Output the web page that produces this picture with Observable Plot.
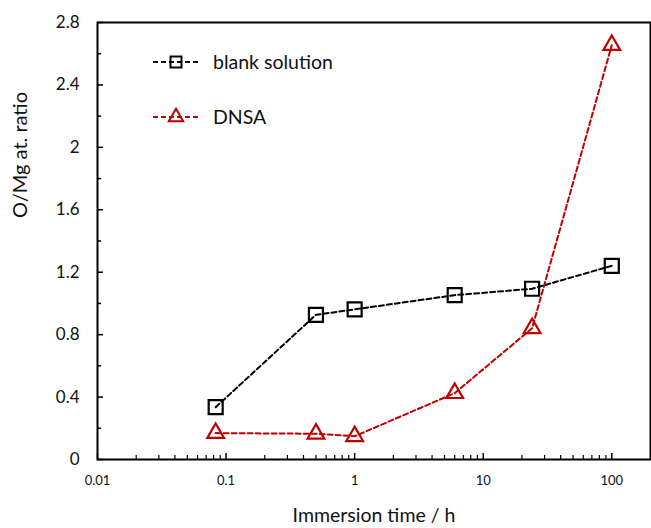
<!DOCTYPE html>
<html><head><meta charset="utf-8">
<script src="https://cdn.jsdelivr.net/npm/d3@7"></script>
<script src="https://cdn.jsdelivr.net/npm/@observablehq/plot@0.6"></script>
<style>
body{margin:0;background:#fff}
svg{font-family:Lato, "Open Sans", sans-serif}
</style>
</head><body><div id="chart"></div>
<script>
// ---- data ----
const times = [0.083, 0.5, 1, 6, 24, 100];
const blankValues = [0.335, 0.927, 0.962, 1.053, 1.094, 1.241];
const dnsaValues = [0.169, 0.165, 0.149, 0.425, 0.841, 2.655];
const seriesNames = ["blank solution", "DNSA"];
const seriesColors = ["#000000", "#C00000"];
const xTickLabels = [0.01, 0.1, 1, 10, 100];
const yTickLabels = [0, 0.4, 0.8, 1.2, 1.6, 2, 2.4, 2.8];
const yMinorTicks = [0.2, 0.6, 1.0, 1.4, 1.8, 2.2, 2.6];
const xTitle = "Immersion time / h";
const yTitle = "O/Mg at. ratio";

// ---- layout ----
const W = 651, H = 528;
const mL = 97, mR = 1, mT = 22, mB = 69;
const pw = W - mL - mR, ph = H - mT - mB;

const xMinorTicks = [];
for (const dec of [0.01, 0.1, 1, 10]) for (let k = 2; k <= 9; k++) xMinorTicks.push(+(dec * k).toPrecision(3));

const blankRows = times.map((t, i) => ({t, v: blankValues[i]}));
const dnsaRows = times.map((t, i) => ({t, v: dnsaValues[i]}));

const fmt = d => String(+(+d).toFixed(2));

const chart = Plot.plot({
  width: W, height: H,
  marginLeft: mL, marginRight: mR, marginTop: mT, marginBottom: mB,
  x: {type: "log", domain: [0.01, 200]},
  y: {domain: [0, 2.8]},
  marks: [
    Plot.tickY(yTickLabels, {y: d => d, insetRight: pw - 6, stroke: "#000", strokeWidth: 1.5}),
    Plot.tickY(yMinorTicks, {y: d => d, insetRight: pw - 4, stroke: "#000", strokeWidth: 1.5}),
    Plot.tickX(xTickLabels, {x: d => d, insetTop: ph - 6, stroke: "#000", strokeWidth: 1.5}),
    Plot.tickX(xMinorTicks, {x: d => d, insetTop: ph - 4, stroke: "#000", strokeWidth: 1.2}),
    Plot.axisY(yTickLabels, {tickSize: 0, tickPadding: 18, fontSize: 17, tickFormat: fmt, label: null, fill: "#111"}),
    Plot.axisX(xTickLabels, {tickSize: 0, tickPadding: 16, fontSize: 13, tickFormat: fmt, label: null, fill: "#111"}),
    Plot.text([xTitle], {frameAnchor: "bottom", dy: 56, fontSize: 19.5, lineAnchor: "middle", fill: "#111"}),
    Plot.text([yTitle], {frameAnchor: "left", rotate: -90, dx: -77, dy: -23, fontSize: 20, lineAnchor: "middle", fill: "#111"}),
    Plot.line(blankRows, {x: "t", y: "v", stroke: seriesColors[0], strokeWidth: 2, strokeDasharray: "5,3"}),
    Plot.line(dnsaRows, {x: "t", y: "v", stroke: seriesColors[1], strokeWidth: 2, strokeDasharray: "5,3"}),
    Plot.dot(blankRows, {x: "t", y: "v", symbol: "square", r: 7.9, stroke: seriesColors[0], strokeWidth: 2.2, fill: "none"}),
    Plot.dot(dnsaRows, {x: "t", y: "v", symbol: "triangle", r: 6.2, stroke: seriesColors[1], strokeWidth: 2.2, fill: "none"}),
    Plot.frame({stroke: "#000", strokeWidth: 2})
  ]
});
document.getElementById("chart").appendChild(chart);

// ---- legend (layout only) ----
const svg = d3.select(chart);
const lg = svg.append("g").attr("text-anchor", "start");
const legendSymbols = [d3.symbolSquare, d3.symbolTriangle];
const legendSizes = [120, 90];
seriesNames.forEach((name, i) => {
  const y = 62 + i * 55;
  const g = lg.append("g").attr("transform", `translate(0,${y})`);
  g.append("line").attr("x1", 153).attr("x2", 200).attr("y1", 0).attr("y2", 0)
    .attr("stroke", seriesColors[i]).attr("stroke-width", 2).attr("stroke-dasharray", "5,3");
  g.append("path").attr("d", d3.symbol(legendSymbols[i], legendSizes[i])())
    .attr("transform", "translate(176,0)").attr("fill", "none")
    .attr("stroke", seriesColors[i]).attr("stroke-width", 2);
  g.append("text").attr("x", 213).attr("y", 0).attr("dy", "0.35em").attr("text-anchor", "start")
    .attr("font-size", 19.5).attr("fill", "#111").text(name);
});
</script>
</body></html>
